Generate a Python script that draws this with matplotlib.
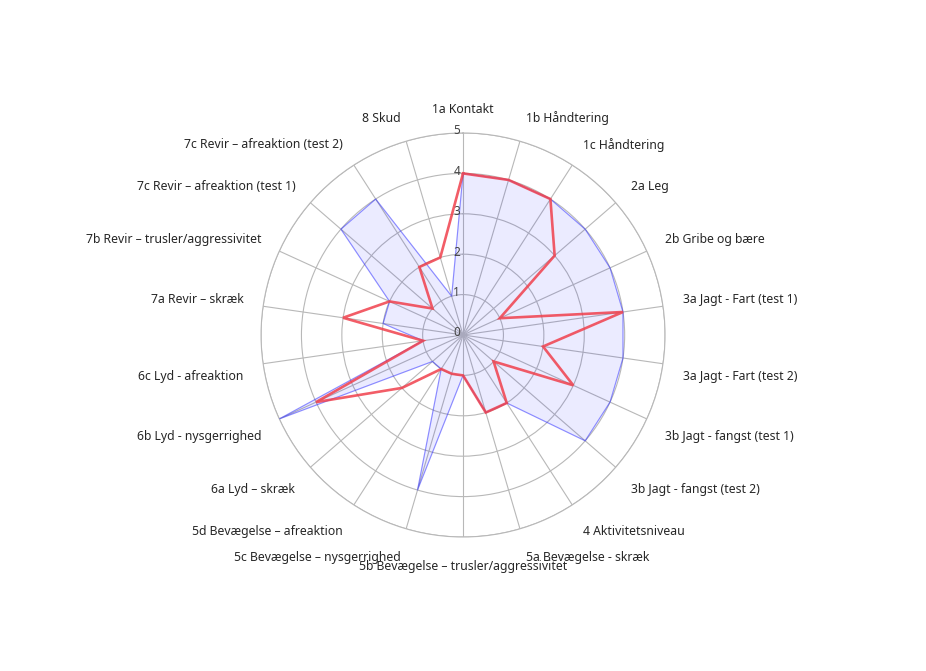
import numpy as np
import matplotlib
matplotlib.use("Agg")
import matplotlib.pyplot as plt

# category labels, clockwise from the top
categories = [
    "1a Kontakt", "1b Håndtering", "1c Håndtering", "2a Leg",
    "2b Gribe og bære", "3a Jagt - Fart (test 1)", "3a Jagt - Fart (test 2)",
    "3b Jagt - fangst (test 1)", "3b Jagt - fangst (test 2)",
    "4 Aktivitetsniveau", "5a Bevægelse - skræk",
    "5b Bevægelse – trusler/aggressivitet", "5c Bevægelse – nysgerrighed",
    "5d Bevægelse – afreaktion", "6a Lyd – skræk", "6b Lyd - nysgerrighed",
    "6c Lyd - afreaktion", "7a Revir – skræk",
    "7b Revir – trusler/aggressivitet", "7c Revir – afreaktion (test 1)",
    "7c Revir – afreaktion (test 2)", "8 Skud",
]
blue_values = [4, 4, 4, 4, 4, 4, 4, 4, 4, 2, 2, 1, 4, 1, 1, 5, 1, 2, 2, 4, 4, 1]
red_values = [4, 4, 4, 3, 1, 4, 2, 3, 1, 2, 2, 1, 1, 1, 2, 4, 1, 3, 2, 1, 2, 2]
ring_labels = ["0", "1", "2", "3", "4", "5"]

plt.rcParams['font.family'] = ['Noto Sans', 'DejaVu Sans']

n = len(categories)
theta = np.arange(n) * 2 * np.pi / n
theta_c = np.append(theta, theta[0])
blue_c = np.append(blue_values, blue_values[0])
red_c = np.append(red_values, red_values[0])

fig = plt.figure(figsize=(9.26, 6.71), dpi=100)
ax = fig.add_axes([0.2819, 0.1997, 0.4363, 0.6021], projection='polar')
ax.set_theta_zero_location('N')
ax.set_theta_direction(-1)
ax.set_ylim(0, 5)
ax.set_axisbelow(True)

grid_col = '#b8b8b8'
ax.set_xticks(theta)
ax.set_xticklabels([])
ax.set_yticks([1, 2, 3, 4, 5])
ax.set_yticklabels([])
ax.tick_params(length=0)
ax.grid(True, color=grid_col, linewidth=0.8)
ax.spines['polar'].set_color(grid_col)
ax.spines['polar'].set_linewidth(0.8)

# series
ax.fill(theta_c, blue_c, color=(0, 0, 1, 0.08), zorder=2)
ax.plot(theta_c, blue_c, color=(0.2, 0.2, 1, 0.5), linewidth=0.8, zorder=3)
ax.plot(theta_c, red_c, color='#f0404c', alpha=0.85, linewidth=1.9,
        solid_joinstyle='miter', zorder=4)

# radial scale labels along the top spoke
for i, lab in enumerate(ring_labels):
    ax.annotate(lab, xy=(0, i), xytext=(-3, 2), textcoords='offset pixels',
                ha='right', va='center', fontsize=8.5, color='#444444',
                annotation_clip=False)

# category labels around the outside
r_lab = 5 * 222 / 202
for t, lab in zip(theta, categories):
    deg = np.degrees(t)
    if abs(deg) < 1e-6 or abs(deg - 180) < 1e-6:
        ha = 'center'
    elif deg < 180:
        ha = 'left'
    else:
        ha = 'right'
    dy = 3.5 if (deg < 90 or deg > 270) else -9.5
    ax.annotate(lab, xy=(t, r_lab), xytext=(0, dy), textcoords='offset pixels',
                ha=ha, va='center', fontsize=8.8, color='#262626',
                annotation_clip=False)

fig.savefig("out.png", dpi=100)
